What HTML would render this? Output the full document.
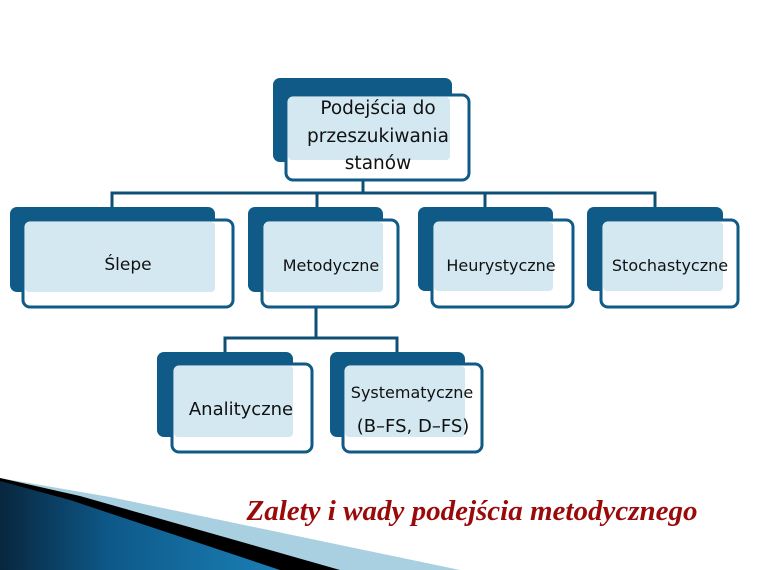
<!DOCTYPE html>
<html><head><meta charset="utf-8"><style>
body{margin:0;width:760px;height:570px;background:#fff;overflow:hidden;}
svg{display:block}
text{font-family:"DejaVu Sans","Liberation Sans",sans-serif;fill:#111}
</style></head><body>
<svg width="760" height="570" viewBox="0 0 760 570">
<defs>
<linearGradient id="bl" x1="0" y1="0" x2="1" y2="0">
<stop offset="0" stop-color="#08263e"/><stop offset="0.4" stop-color="#0e5a8a"/><stop offset="1" stop-color="#1a7fb5"/>
</linearGradient>
</defs>
<g stroke="#0f4f75" stroke-width="3" fill="none">
<path d="M363 180 V193 M112 208 V193 H655 V208 M317 193 V208 M485 193 V208"/>
<path d="M316 308 V338 M225 352 V338 H397 V352"/>
</g>
<g>
<rect x="273" y="78" width="179" height="84" rx="7" fill="#0f5a86"/>
<rect x="286" y="95" width="183" height="85" rx="7" fill="#fff" stroke="#0f5a86" stroke-width="3"/>
<rect x="288" y="97" width="162" height="63" rx="4" fill="#d3e8f1"/>
<rect x="10" y="207" width="205" height="85" rx="7" fill="#0f5a86"/>
<rect x="23" y="220" width="210" height="87" rx="7" fill="#fff" stroke="#0f5a86" stroke-width="3"/>
<rect x="25" y="222" width="190" height="70" rx="4" fill="#d3e8f1"/>
<rect x="248" y="207" width="135" height="85" rx="7" fill="#0f5a86"/>
<rect x="262" y="220" width="136" height="87" rx="7" fill="#fff" stroke="#0f5a86" stroke-width="3"/>
<rect x="264" y="222" width="119" height="70" rx="4" fill="#d3e8f1"/>
<rect x="418" y="207" width="135" height="84" rx="7" fill="#0f5a86"/>
<rect x="432" y="220" width="141" height="87" rx="7" fill="#fff" stroke="#0f5a86" stroke-width="3"/>
<rect x="434" y="222" width="119" height="69" rx="4" fill="#d3e8f1"/>
<rect x="587" y="207" width="136" height="84" rx="7" fill="#0f5a86"/>
<rect x="601" y="220" width="137" height="87" rx="7" fill="#fff" stroke="#0f5a86" stroke-width="3"/>
<rect x="603" y="222" width="120" height="69" rx="4" fill="#d3e8f1"/>
<rect x="157" y="352" width="136" height="85" rx="7" fill="#0f5a86"/>
<rect x="172" y="364" width="140" height="88" rx="7" fill="#fff" stroke="#0f5a86" stroke-width="3"/>
<rect x="174" y="366" width="119" height="71" rx="4" fill="#d3e8f1"/>
<rect x="330" y="352" width="135" height="85" rx="7" fill="#0f5a86"/>
<rect x="343" y="364" width="139" height="88" rx="7" fill="#fff" stroke="#0f5a86" stroke-width="3"/>
<rect x="345" y="366" width="120" height="71" rx="4" fill="#d3e8f1"/>
</g>
<g text-anchor="middle">
<text x="378" y="114" font-size="18.5">Podejścia do</text>
<text x="378" y="142" font-size="18.5">przeszukiwania</text>
<text x="378" y="169" font-size="18.5">stanów</text>
<text x="128" y="270" font-size="17">Ślepe</text>
<text x="331" y="271" font-size="16">Metodyczne</text>
<text x="501" y="271" font-size="16">Heurystyczne</text>
<text x="670" y="271" font-size="16">Stochastyczne</text>
<text x="241" y="415" font-size="18">Analityczne</text>
<text x="412" y="398" font-size="16">Systematyczne</text>
<text x="413" y="432" font-size="18">(B–FS, D–FS)</text>
</g>
<polygon points="0,478 110,497 460,570 0,570" fill="#a9d0e0"/>
<polygon points="0,478 80,496 340,570 0,570" fill="#000"/>
<polygon points="0,481 70,500 280,570 0,570" fill="url(#bl)"/>
<text x="472" y="520" text-anchor="middle" font-style="italic" font-weight="bold" font-size="29" style="font-family:'Liberation Serif',serif;fill:#9b0a0a">Zalety i wady podejścia metodycznego</text>
</svg>
</body></html>
